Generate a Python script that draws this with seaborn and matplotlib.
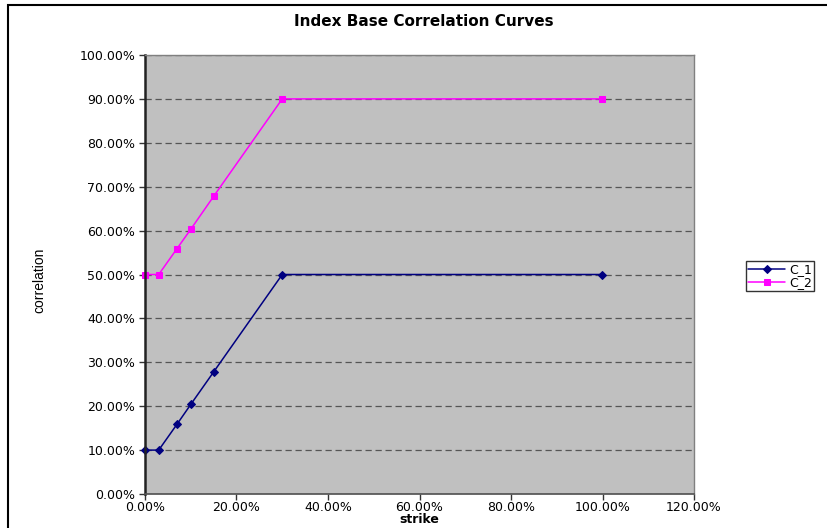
import pandas as pd
import matplotlib
matplotlib.use('Agg')
import matplotlib.pyplot as plt
from matplotlib.ticker import PercentFormatter, MultipleLocator
from matplotlib.patches import Rectangle
import seaborn as sns

# Data
strike = [0.0, 0.03, 0.07, 0.10, 0.15, 0.30, 1.00]
c1 = [0.10, 0.10, 0.159, 0.204, 0.278, 0.50, 0.50]
c2 = [0.50, 0.50, 0.559, 0.603, 0.678, 0.90, 0.90]
series_names = ['C_1', 'C_2']

df = pd.DataFrame({
    'strike': strike * 2,
    'correlation': c1 + c2,
    'series': [series_names[0]] * len(strike) + [series_names[1]] * len(strike),
})

sns.set_theme(style='white')
plt.rcParams['font.family'] = ['DejaVu Sans']
plt.rcParams['text.color'] = 'black'
plt.rcParams['axes.labelcolor'] = 'black'
plt.rcParams['xtick.color'] = 'black'
plt.rcParams['ytick.color'] = 'black'

fig = plt.figure(figsize=(8.28, 5.28), dpi=100)
ax = fig.add_axes([145 / 828, 34 / 528, 549 / 828, 439 / 528])
ax.set_facecolor('#C0C0C0')

sns.lineplot(data=df[df['series'] == 'C_1'], x='strike', y='correlation',
             color='#000080', marker='D', markersize=4, lw=1.1,
             markeredgecolor='#000080', label='C_1', ax=ax)
sns.lineplot(data=df[df['series'] == 'C_2'], x='strike', y='correlation',
             color='#FF00FF', marker='s', markersize=5, lw=1.1,
             markeredgecolor='#FF00FF', label='C_2', ax=ax)
for ln in ax.get_lines():
    ln.set_clip_on(False)

ax.set_xlim(0, 1.2)
ax.set_ylim(0, 1.0)
ax.xaxis.set_major_locator(MultipleLocator(0.2))
ax.yaxis.set_major_locator(MultipleLocator(0.1))
ax.xaxis.set_major_formatter(PercentFormatter(xmax=1, decimals=2))
ax.yaxis.set_major_formatter(PercentFormatter(xmax=1, decimals=2))
ax.grid(axis='y', color='#555555', linestyle=(0, (5, 3)), lw=0.9)
ax.grid(axis='x', visible=False)
ax.tick_params(axis='both', direction='out', length=4, width=1, color='#333333',
               labelsize=9, left=True, bottom=True)
ax.tick_params(axis='x', pad=1)
ax.tick_params(axis='y', pad=3)

for side in ['top', 'right']:
    ax.spines[side].set_color('#808080')
    ax.spines[side].set_linewidth(1)
ax.spines['bottom'].set_color('#555555')
ax.spines['left'].set_color('#222222')
ax.spines['left'].set_linewidth(1.8)

ax.set_xlabel('strike', fontsize=9, fontweight='bold')
ax.xaxis.set_label_coords(0.5, -0.044)
ax.set_ylabel('correlation', fontsize=10,
              family=['Liberation Sans Narrow', 'Liberation Sans', 'DejaVu Sans'])
ax.yaxis.set_label_coords(-0.18, 0.487)
fig.text(424 / 828, 1 - 22 / 528, 'Index Base Correlation Curves',
         ha='center', va='center', fontsize=11, fontweight='bold')

leg = ax.legend(loc='upper left', bbox_to_anchor=(746 / 828, 1 - 261 / 528),
                bbox_transform=fig.transFigure, frameon=True, fancybox=False,
                fontsize=9, handlelength=3.0, handletextpad=0.3,
                borderpad=0.15, labelspacing=0.05, borderaxespad=0)
leg.get_frame().set_edgecolor('black')
leg.get_frame().set_linewidth(1)

# outer chart frame
fig.patches.append(Rectangle((8 / 828, -0.1), 1.2, 1 - 5 / 528 + 0.1,
                             transform=fig.transFigure, fill=False,
                             edgecolor='black', lw=1.5, zorder=0))

fig.savefig('out.png', dpi=100)
